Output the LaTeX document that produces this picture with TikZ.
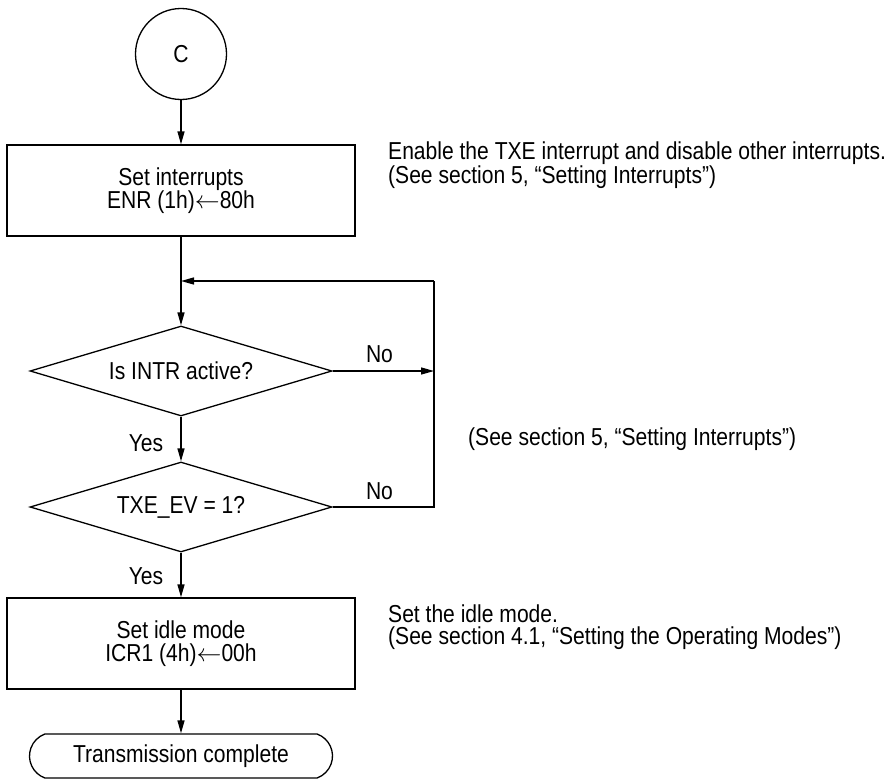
\documentclass[tikz,border=0pt]{standalone}
\usepackage{fontspec}
\setmainfont{Liberation Sans}[FakeStretch=0.86]
\usetikzlibrary{shapes.geometric,shapes.misc,arrows.meta}
\begin{document}
\begin{tikzpicture}[x=1pt,y=-1pt,
  every node/.style={font=\fontsize{24.5}{23}\selectfont},
  flow/.style={line width=1.3pt},
  arr/.style={flow,-{Triangle[length=13pt,width=7pt]}},
  connector/.style={draw,circle,line width=1.3pt,minimum size=91pt,inner sep=0pt},
  proc/.style={draw,rectangle,line width=1.3pt,minimum width=348pt,minimum height=91pt,align=center,inner sep=0pt},
  decision/.style={draw,diamond,line width=1.3pt,aspect=3.36,minimum width=302pt,minimum height=90pt,inner sep=0pt},
  terminal/.style={draw,rounded rectangle,rounded rectangle arc length=140,line width=1.3pt,minimum width=303pt,minimum height=44pt,inner sep=0pt},
  note/.style={anchor=west,align=left,inner sep=0pt,font=\fontsize{24.5}{22}\selectfont},
  lbl/.style={inner sep=0pt}
]
\useasboundingbox (0,0) rectangle (895,779);

% flow chart nodes
\node[connector] (c) at (181,54) {C};
\node[proc] (b1) at (181,190.5) {Set interrupts\\ENR (1h)$\leftarrow$80h};
\node[decision] (d1) at (181,371) {Is INTR active?};
\node[decision] (d2) at (181,507) {TXE\_EV = 1?};
\node[proc] (b2) at (181,643.5) {Set idle mode\\ICR1 (4h)$\leftarrow$00h};
\node[terminal] (t) at (181,756) {Transmission complete};

% loop-back corner points
\coordinate (j) at (181,281);
\coordinate (r0) at (434,281);
\coordinate (r1) at (434,371);
\coordinate (r2) at (434,507);

% connectors
\draw[arr] (c.south) -- (b1.north);
\draw[arr] (b1.south) -- (d1.north);
\draw[arr] (d1.east) -- (r1);
\draw[arr] (d1.south) -- (d2.north);
\draw[flow] (d2.east) -- (r2) -- (r0);
\draw[arr] (r0) -- (j);
\draw[arr] (d2.south) -- (b2.north);
\draw[arr] (b2.south) -- (t.north);

% branch labels
\node[lbl] (no1) at (379.5,354) {No};
\node[lbl] (no2) at (379.5,491) {No};
\node[lbl] (yes1) at (146,443) {Yes};
\node[lbl] (yes2) at (146,576) {Yes};

% side notes
\node[note] (n1) at (388,165) {Enable the TXE interrupt and disable other interrupts.\\(See section 5, “Setting Interrupts”)};
\node[note] (n2) at (468,439) {(See section 5, “Setting Interrupts”)};
\node[note] (n3) at (388,627) {Set the idle mode.\\(See section 4.1, “Setting the Operating Modes”)};
\end{tikzpicture}
\end{document}
